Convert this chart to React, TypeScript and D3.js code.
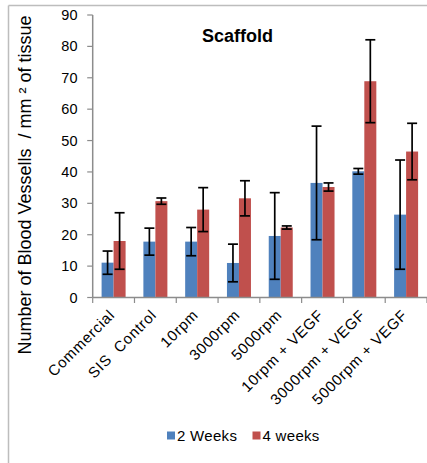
import React from "react";
import * as d3 from "d3";

// Scaffold groups and blood-vessel counts (per mm² of tissue)
const categories = [
  "Commercial",
  "SIS  Control",
  "10rpm",
  "3000rpm",
  "5000rpm",
  "10rpm + VEGF",
  "3000rpm + VEGF",
  "5000rpm + VEGF",
];
const seriesNames = ["2 Weeks", "4 weeks"];
const weeks2 = [11.1, 17.8, 17.8, 11, 19.6, 36.5, 40.2, 26.4];
const weeks2Err = [3.7, 4.3, 4.5, 6, 13.8, 18.1, 0.9, 17.4];
const weeks4 = [18, 30.7, 28, 31.6, 22.3, 35.2, 68.9, 46.5];
const weeks4Err = [9, 1, 7, 5.6, 0.5, 1.3, 13.2, 9];
const yTicks = [0, 10, 20, 30, 40, 50, 60, 70, 80, 90];

const W = 427;
const H = 463;
const FONT = "'Liberation Sans', Arial, sans-serif";
const COLORS = ["#4F81BD", "#C0504D"];
const AXIS = "#8c8c8c";

export default function App() {
  const left = 92.7;
  const right = 427;
  const top = 15;
  const bottom = 297.5;

  const x = d3.scaleBand<string>().domain(categories).range([left, right]).padding(0);
  const y = d3.scaleLinear().domain([0, 90]).range([bottom, top]);
  const barW = 12;

  const series = [
    { name: seriesNames[0], values: weeks2, errs: weeks2Err, color: COLORS[0], dx: -barW },
    { name: seriesNames[1], values: weeks4, errs: weeks4Err, color: COLORS[1], dx: 0 },
  ];

  const cx = (c: string) => (x(c) as number) + x.bandwidth() / 2;
  const boundaries = [...categories.map((c) => x(c) as number), right];

  return (
    <svg
      width={W}
      height={H}
      style={{ position: "absolute", left: 0, top: 0, background: "#fff" }}
      fontFamily={FONT}
    >
      {/* chart frame */}
      <line x1={8.5} y1={5.5} x2={W + 2} y2={5.5} stroke="#bdbdbd" strokeWidth={1.5} />
      <line x1={8.5} y1={5.5} x2={8.5} y2={H + 2} stroke="#bdbdbd" strokeWidth={1.5} />

      {/* title */}
      <text x={237.5} y={41.5} textAnchor="middle" fontSize={18} fontWeight="bold" fill="#000">
        Scaffold
      </text>

      {/* y axis */}
      <line x1={left} y1={top} x2={left} y2={bottom} stroke={AXIS} strokeWidth={1.5} />
      {yTicks.map((t) => (
        <g key={t}>
          <line x1={left - 5.5} x2={left} y1={y(t)} y2={y(t)} stroke={AXIS} strokeWidth={1.2} />
          <text x={77.5} y={y(t) + 5} textAnchor="end" fontSize={14.5} fill="#000">
            {t}
          </text>
        </g>
      ))}
      <text
        transform={`translate(31,185) rotate(-90)`}
        textAnchor="middle"
        fontSize={18}
        fill="#000"
        style={{ whiteSpace: "pre" }}
      >
        {"Number of Blood Vessells  / mm ² of tissue"}
      </text>

      {/* bars */}
      {series.map((s) =>
        categories.map((c, i) => (
          <rect
            key={s.name + c}
            x={cx(c) + s.dx}
            y={y(s.values[i])}
            width={barW}
            height={bottom - y(s.values[i])}
            fill={s.color}
          />
        ))
      )}

      {/* error bars */}
      {series.map((s) =>
        categories.map((c, i) => {
          const ex = cx(c) + s.dx + barW / 2;
          const hi = y(s.values[i] + s.errs[i]);
          const lo = y(s.values[i] - s.errs[i]);
          return (
            <g key={"e" + s.name + c} stroke="#000" strokeWidth={1.7}>
              <line x1={ex} x2={ex} y1={hi} y2={lo} />
              <line x1={ex - 5} x2={ex + 5} y1={hi} y2={hi} />
              <line x1={ex - 5} x2={ex + 5} y1={lo} y2={lo} />
            </g>
          );
        })
      )}

      {/* x axis */}
      <line x1={left} y1={bottom} x2={right} y2={bottom} stroke={AXIS} strokeWidth={1.5} />
      {boundaries.map((b, i) => (
        <line key={i} x1={b} x2={b} y1={bottom} y2={bottom + 5.5} stroke={AXIS} strokeWidth={1.2} />
      ))}
      {categories.map((c) => (
        <text
          key={"l" + c}
          transform={`translate(${cx(c) + 2},${316}) rotate(-45)`}
          textAnchor="end"
          fontSize={15}
          letterSpacing={0.7}
          fill="#000"
          style={{ whiteSpace: "pre" }}
        >
          {c}
        </text>
      ))}

      {/* legend */}
      {series.map((s, i) => {
        const lx = i === 0 ? 167 : 252.5;
        return (
          <g key={"lg" + s.name}>
            <rect x={lx} y={431.5} width={8} height={8} fill={s.color} />
            <text x={lx + 10} y={440.5} fontSize={15} letterSpacing={0.3} fill="#000">
              {s.name}
            </text>
          </g>
        );
      })}
    </svg>
  );
}
